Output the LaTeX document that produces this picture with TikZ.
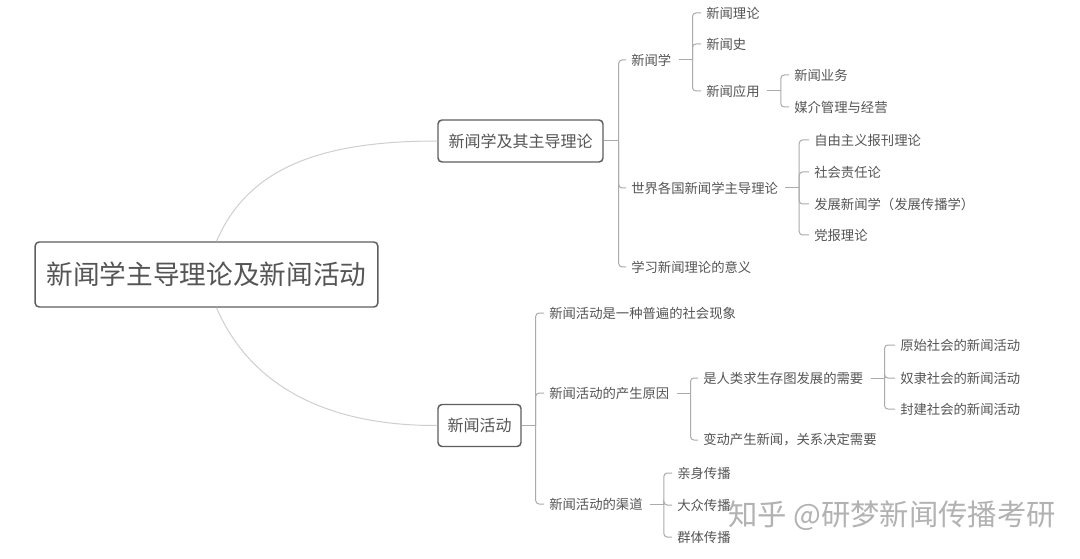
\documentclass[tikz,border=0pt]{standalone}
\usepackage{fontspec}
\setmainfont{Noto Sans CJK SC}
\usetikzlibrary{calc}
\definecolor{txt}{HTML}{555555}
\definecolor{boxline}{HTML}{5E5E5E}
\definecolor{brline}{HTML}{ABABAB}
\definecolor{curveline}{HTML}{CFCFCF}
\begin{document}
\begin{tikzpicture}[x=0.75pt,y=-0.75pt,
  leaf/.style={anchor=west,inner sep=0pt,text=txt,font=\fontsize{10}{12}\selectfont},
  topicbox/.style={draw=boxline,line width=1.1pt,rounded corners=3pt,text=txt,inner sep=0pt,fill=white},
  br/.style={draw=brline,line width=0.75pt,rounded corners=2.5pt},
  curve/.style={draw=curveline,line width=0.75pt},
  wm/.style={anchor=west,inner sep=0pt,text=black!30,font=\fontsize{22}{26}\selectfont}]
\useasboundingbox (0,0) rectangle (1080,559);
\fill[white] (0,0) rectangle (1080,559);

% main boxes
\node[topicbox,minimum width=257pt,minimum height=48.75pt,font=\fontsize{20}{24}\selectfont] (root) at (206.5,274.5) {新闻学主导理论及新闻活动};
\node[topicbox,minimum width=123.75pt,minimum height=31.5pt,font=\fontsize{12}{14}\selectfont] (b1) at (520.5,141) {新闻学及其主导理论};
\node[topicbox,minimum width=62.25pt,minimum height=31.5pt,font=\fontsize{12}{14}\selectfont] (b2) at (479.5,425.5) {新闻活动};

% curves
\coordinate (rt) at ($(root.north)+(10,0)$);
\coordinate (rb) at ($(root.south)+(10,0)$);
\draw[curve] (rt) .. controls (248,168) and (320,141) .. (b1.west);
\draw[curve] (rb) .. controls (248,381) and (320,426) .. (b2.west);

% level 2 under b1
\node[leaf] (xwx) at (631,60) {新闻学};
\node[leaf] (sjgg) at (631,188) {世界各国新闻学主导理论};
\node[leaf] (xxyy) at (631,267) {学习新闻理论的意义};
% level 3
\node[leaf] (xwll) at (706,13) {新闻理论};
\node[leaf] (xws) at (706,44) {新闻史};
\node[leaf] (xwyy) at (706,91) {新闻应用};
\node[leaf] (xwyw) at (794,75) {新闻业务};
\node[leaf] (mjgl) at (794,107) {媒介管理与经营};
\node[leaf] (zyzy) at (814,140) {自由主义报刊理论};
\node[leaf] (shzr) at (814,172) {社会责任论};
\node[leaf] (fzxw) at (814,204) {发展新闻学（发展传播学）};
\node[leaf] (dbll) at (814,235) {党报理论};

% level 2 under b2
\node[leaf] (pbxx) at (549,313) {新闻活动是一种普遍的社会现象};
\node[leaf] (csyy) at (549,393) {新闻活动的产生原因};
\node[leaf] (qd) at (549,504) {新闻活动的渠道};
\node[leaf] (rlxq) at (703,378) {是人类求生存图发展的需要};
\node[leaf] (bdcs) at (703,440) {变动产生新闻，关系决定需要};
\node[leaf] (ysh) at (900,345) {原始社会的新闻活动};
\node[leaf] (nlsh) at (900,378) {奴隶社会的新闻活动};
\node[leaf] (fjsh) at (900,409) {封建社会的新闻活动};
\node[leaf] (qscb) at (677,473) {亲身传播};
\node[leaf] (dzcb) at (677,505) {大众传播};
\node[leaf] (qtcb) at (677,537) {群体传播};

% bracket coordinates
\coordinate (b1k) at ($(b1.east)+(15,0)$);
\coordinate (b2k) at ($(b2.east)+(14,0)$);
\foreach \p in {xwx,xwyy,sjgg,csyy,rlxq,qd}{
  \coordinate (\p k) at ($(\p.east)+(21,0)$);
  \draw[br] ($(\p.east)+(7,0)$) -- (\p k);
}
\draw[br] (b1.east) -- (b1k);
\draw[br] (b2.east) -- (b2k);

\foreach \p/\c in {b1/xwx,b1/sjgg,b1/xxyy,
                   xwx/xwll,xwx/xws,xwx/xwyy,
                   xwyy/xwyw,xwyy/mjgl,
                   sjgg/zyzy,sjgg/shzr,sjgg/fzxw,sjgg/dbll,
                   b2/pbxx,b2/csyy,b2/qd,
                   csyy/rlxq,csyy/bdcs,
                   rlxq/ysh,rlxq/nlsh,rlxq/fjsh,
                   qd/qscb,qd/dzcb,qd/qtcb}{
  \draw[br] (\p k) |- ($(\c.west)+(-5,0)$);
}

% watermark
\node[wm] (wmark) at (728,516) {知乎 @研梦新闻传播考研};
\end{tikzpicture}
\end{document}
